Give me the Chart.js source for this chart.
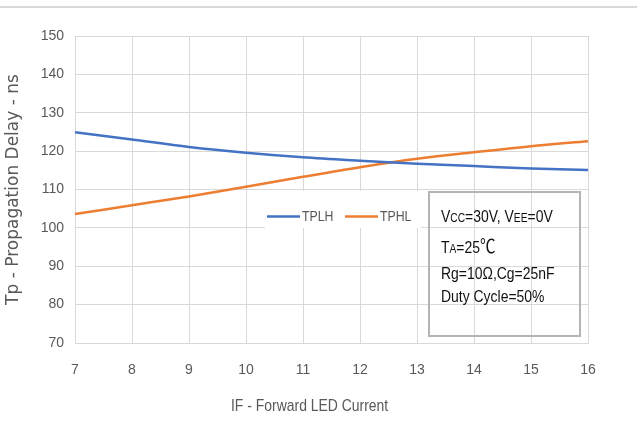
<!DOCTYPE html>
<html>
<head>
<meta charset="utf-8">
<script src="https://cdn.jsdelivr.net/npm/chart.js@4.4.0/dist/chart.umd.min.js"></script>
<style>
  body { margin: 0; background: #fff; }
  #wrap { position: relative; width: 637px; height: 432px; }
  #topline { position: absolute; left: 0; top: 6px; width: 637px; height: 2px; background: #d9d9d9; }
  #note {
    position: absolute; left: 428px; top: 191px; width: 153px; height: 146px;
    box-sizing: border-box; border: 2px solid #b4b4b4;
  }
  .nl {
    position: absolute; left: 441px; font: 17px 'Liberation Sans', sans-serif;
    line-height: 20px; color: #111; white-space: nowrap;
    transform: scaleX(0.82); transform-origin: 0 0;
  }
  .sc { font-size: 12.5px; }
  .deg { font-family: 'Noto Sans CJK SC', sans-serif; font-size: 19px; }
  #xtitle {
    position: absolute; left: 231px; top: 396px; font: 17px 'Liberation Sans', sans-serif;
    line-height: 20px; color: #595959; white-space: nowrap;
    transform: scaleX(0.82); transform-origin: 0 0;
  }
</style>
</head>
<body>
<div id="wrap">
  <canvas id="chart" width="637" height="432"></canvas>
  <div id="topline"></div>
  <div id="note"></div>
  <div class="nl" style="top:207px">V<span class="sc">CC</span>=30V, V<span class="sc">EE</span>=0V</div>
  <div class="nl" style="top:235px">T<span class="sc">A</span>=25<span class="deg">℃</span></div>
  <div class="nl" style="top:264px">Rg=10Ω,Cg=25nF</div>
  <div class="nl" style="top:287px">Duty Cycle=50%</div>
  <div id="xtitle">IF - Forward LED Current</div>
</div>
<script>
// forward LED current (x axis)
const currents = ['7', '8', '9', '10', '11', '12', '13', '14', '15', '16'];
// propagation delays, ns
const tplh = [124.9, 123.0, 121.1, 119.6, 118.4, 117.5, 116.7, 116.1, 115.5, 115.1];
const tphl = [103.6, 105.9, 108.2, 110.7, 113.3, 115.8, 118.0, 119.7, 121.3, 122.6];
const yTicks = [70, 80, 90, 100, 110, 120, 130, 140, 150];

const sans = "'Liberation Sans', sans-serif";
const grey = '#595959';
const gridGrey = '#d9d9d9';

// legend drawn inside the plot on a white patch, like the original
const innerLegend = {
    id: 'innerLegend',
    beforeDatasetsDraw(chart) {
        const ctx = chart.ctx;
        const ds = chart.data.datasets;
        ctx.save();
        ctx.fillStyle = '#fff';
        ctx.fillRect(265, 191, 156, 37);
        const items = [{ x: 267, tx: 302 }, { x: 345, tx: 380 }];
        items.forEach((it, i) => {
            ctx.strokeStyle = ds[i].borderColor;
            ctx.lineWidth = 2.5;
            ctx.beginPath();
            ctx.moveTo(it.x, 216.5);
            ctx.lineTo(it.x + 33, 216.5);
            ctx.stroke();
            // narrow text, squeezed horizontally
            ctx.save();
            ctx.translate(it.tx, 217);
            ctx.scale(0.82, 1);
            ctx.fillStyle = grey;
            ctx.font = '15px ' + sans;
            ctx.textBaseline = 'middle';
            ctx.fillText(ds[i].label, 0, 0);
            ctx.restore();
        });
        ctx.restore();
    }
};

new Chart(document.getElementById('chart'), {
    type: 'line',
    data: {
        labels: currents,
        datasets: [
            { label: 'TPLH', data: tplh, borderColor: '#4472C4', borderWidth: 2.5,
              pointRadius: 0, cubicInterpolationMode: 'monotone' },
            { label: 'TPHL', data: tphl, borderColor: '#ED7D31', borderWidth: 2.5,
              pointRadius: 0, cubicInterpolationMode: 'monotone' }
        ]
    },
    options: {
        responsive: false,
        animation: false,
        layout: { padding: { top: 36, right: 49, left: 0, bottom: 0 } },
        plugins: { legend: { display: false }, tooltip: { enabled: false } },
        scales: {
            x: {
                grid: { color: gridGrey, drawTicks: false },
                border: { color: gridGrey },
                ticks: { color: grey, font: { family: sans, size: 14 }, padding: 19, maxRotation: 0 },
                afterFit(scale) { scale.height = 89; }
            },
            y: {
                min: 70, max: 150,
                grid: { color: gridGrey, drawTicks: false },
                border: { color: gridGrey },
                afterBuildTicks(scale) { scale.ticks = yTicks.map(v => ({ value: v })); },
                ticks: { color: grey, font: { family: sans, size: 14 }, padding: 11 },
                title: { display: true, text: 'Tp - Propagation Delay - ns', color: grey,
                         font: { family: "'DejaVu Sans', sans-serif", size: 17 }, padding: { top: 3 } },
                afterFit(scale) { scale.width = 75; }
            }
        }
    },
    plugins: [innerLegend]
});
</script>
</body>
</html>
